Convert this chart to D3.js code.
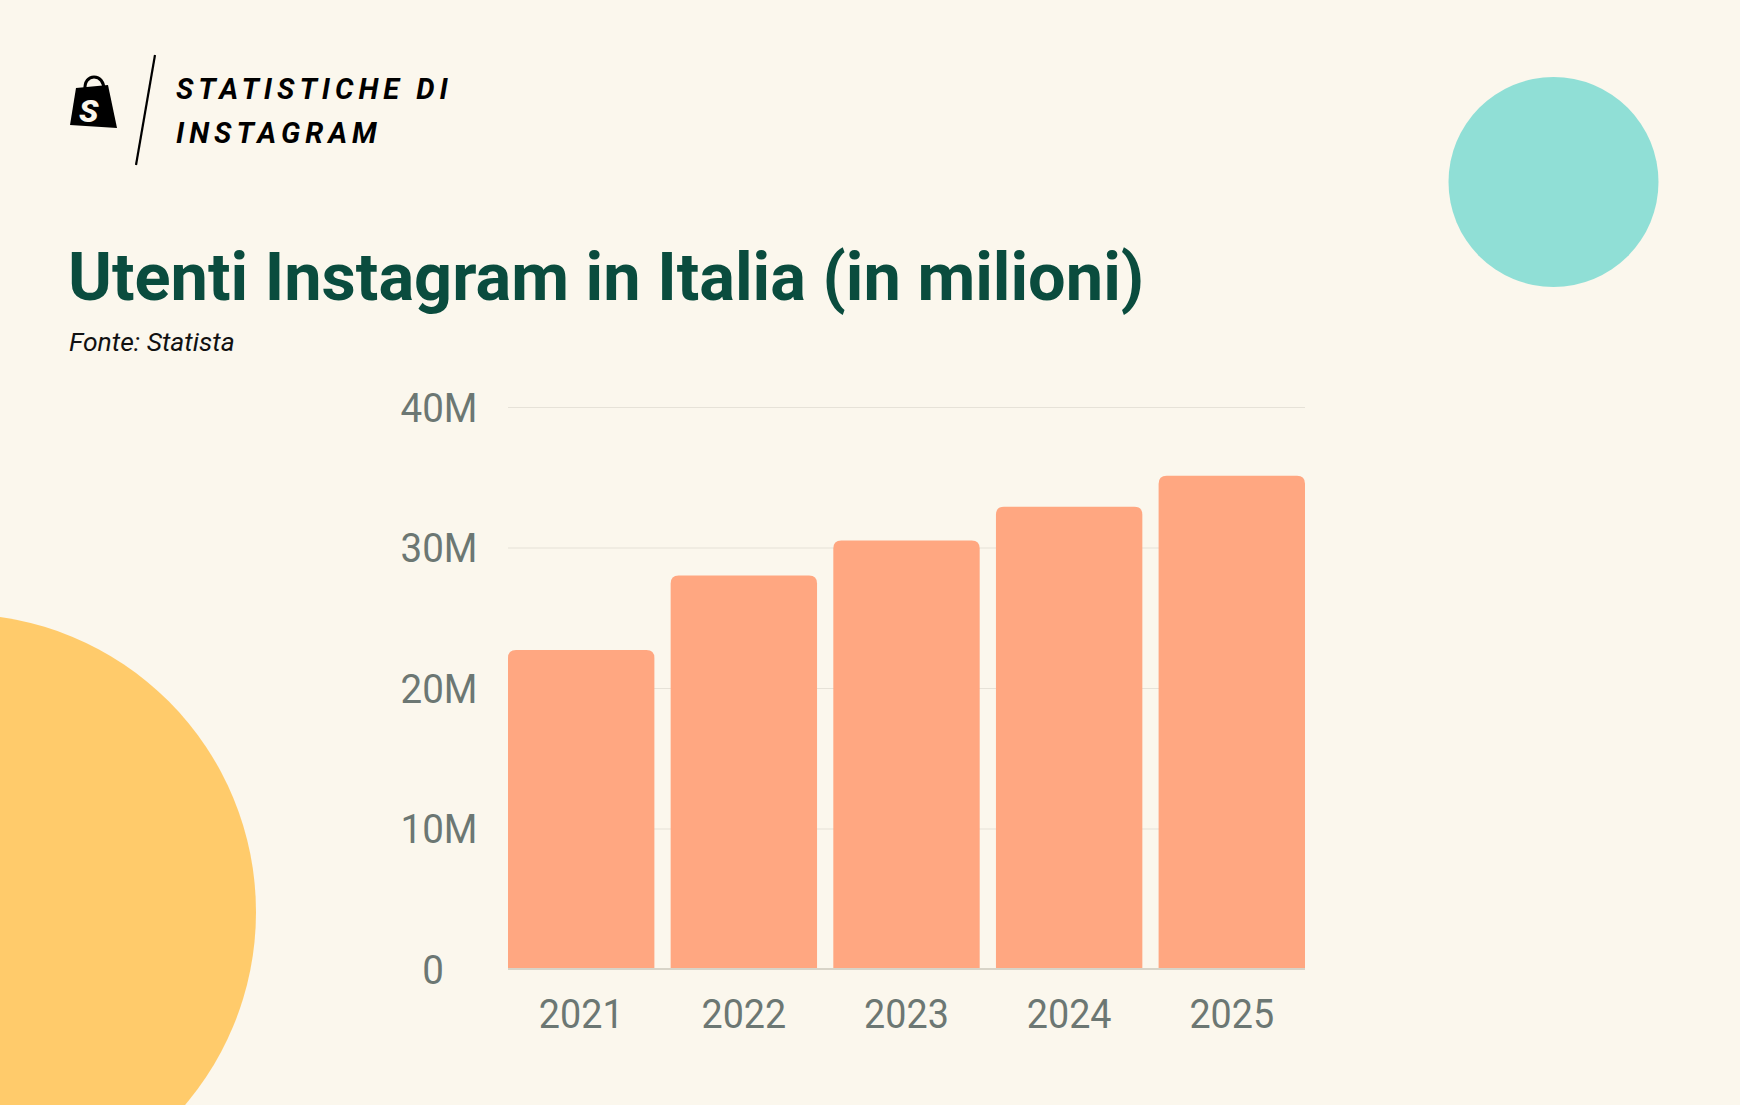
<!DOCTYPE html>
<html><head><meta charset="utf-8">
<script src="https://cdn.jsdelivr.net/npm/d3@7"></script>
<style>
html,body{margin:0;padding:0;background:#fbf7ed;}
svg{display:block;}
text{font-family:Roboto,"Noto Sans",sans-serif;}
</style></head>
<body>
<script>
// Data
const years = ["2021","2022","2023","2024","2025"];
const users = [22.7, 28.0, 30.5, 32.9, 35.1]; // millions
const yTicks = [0, 10, 20, 30, 40];
const yTickLabels = ["0", "10M", "20M", "30M", "40M"];
const headerLines = ["STATISTICHE DI", "INSTAGRAM"];
const title = "Utenti Instagram in Italia (in milioni)";
const source = "Fonte: Statista";

const W = 1740, H = 1105;
const svg = d3.select("body").append("svg").attr("width", W).attr("height", H);
svg.append("rect").attr("width", W).attr("height", H).attr("fill", "#fbf7ed");

// decorative circles
svg.append("circle").attr("cx", 1553.5).attr("cy", 182).attr("r", 105).attr("fill", "#90dfd6");
svg.append("circle").attr("cx", -42).attr("cy", 912).attr("r", 298).attr("fill", "#ffcb6b");

// header logo
const logo = svg.append("g");
logo.append("path")
  .attr("d", "M85,91 C84,81 89,77 94,77 C100,77 104,82 104,90")
  .attr("fill", "none").attr("stroke", "#000").attr("stroke-width", 3);
logo.append("path")
  .attr("d", "M76,88 L108,85 L117,128 L70,125 Z")
  .attr("fill", "#000");
logo.append("text").attr("x", 79).attr("y", 122)
  .attr("font-size", 32).attr("font-weight", 900).attr("font-style", "italic")
  .attr("fill", "#fbf7ed").text("S");
svg.append("line").attr("x1", 155).attr("y1", 55).attr("x2", 136).attr("y2", 165)
  .attr("stroke", "#000").attr("stroke-width", 2.2);
svg.append("g").selectAll("text").data(headerLines).join("text")
  .attr("x", 176).attr("y", (d, i) => 99 + i * 44)
  .attr("font-size", 29).attr("font-weight", 700).attr("font-style", "italic")
  .attr("letter-spacing", "5px").attr("fill", "#000").text(d => d);

// title
svg.append("text").attr("x", 68).attr("y", 300)
  .attr("font-size", 66.7).attr("font-weight", 700).attr("fill", "#0a4c3e").text(title);
svg.append("text").attr("x", 69).attr("y", 351)
  .attr("font-size", 26.5).attr("font-style", "italic").attr("fill", "#111").text(source);

// chart
const x = d3.scaleBand().domain(years).range([508, 1305]).paddingInner(0.1).paddingOuter(0);
const y = d3.scaleLinear().domain([0, 40]).range([969, 407]);

// gridlines
svg.append("g").selectAll("line").data(yTicks.filter(d => d > 0)).join("line")
  .attr("x1", 508).attr("x2", 1305)
  .attr("y1", d => y(d) + 0.5).attr("y2", d => y(d) + 0.5)
  .attr("stroke", "#e6e2d8").attr("stroke-width", 1.2);

// bars with rounded tops
const r = 8;
svg.append("g").selectAll("path").data(years).join("path")
  .attr("fill", "#ffa781")
  .attr("d", (d, i) => {
    const x0 = x(d), w = x.bandwidth(), yt = y(users[i]), yb = y(0);
    return `M${x0},${yb} L${x0},${yt + r} Q${x0},${yt} ${x0 + r},${yt} L${x0 + w - r},${yt} Q${x0 + w},${yt} ${x0 + w},${yt + r} L${x0 + w},${yb} Z`;
  });

// baseline
svg.append("line").attr("x1", 508).attr("x2", 1305).attr("y1", y(0)).attr("y2", y(0))
  .attr("stroke", "#d8d4c8").attr("stroke-width", 2);

// y labels
svg.append("g").selectAll("text").data(yTicks).join("text")
  .attr("transform", d => `translate(${d === 0 ? 433 : 439},${y(d)}) scale(0.94,1)`)
  .attr("dy", "0.36em").attr("text-anchor", "middle")
  .attr("font-size", 41).attr("fill", "#6c7773")
  .text((d, i) => yTickLabels[i]);

// x labels
svg.append("g").selectAll("text").data(years).join("text")
  .attr("transform", d => `translate(${x(d) + x.bandwidth() / 2},1028) scale(0.92,1)`)
  .attr("text-anchor", "middle")
  .attr("font-size", 41).attr("fill", "#6c7773")
  .text(d => d);
</script>
</body></html>
